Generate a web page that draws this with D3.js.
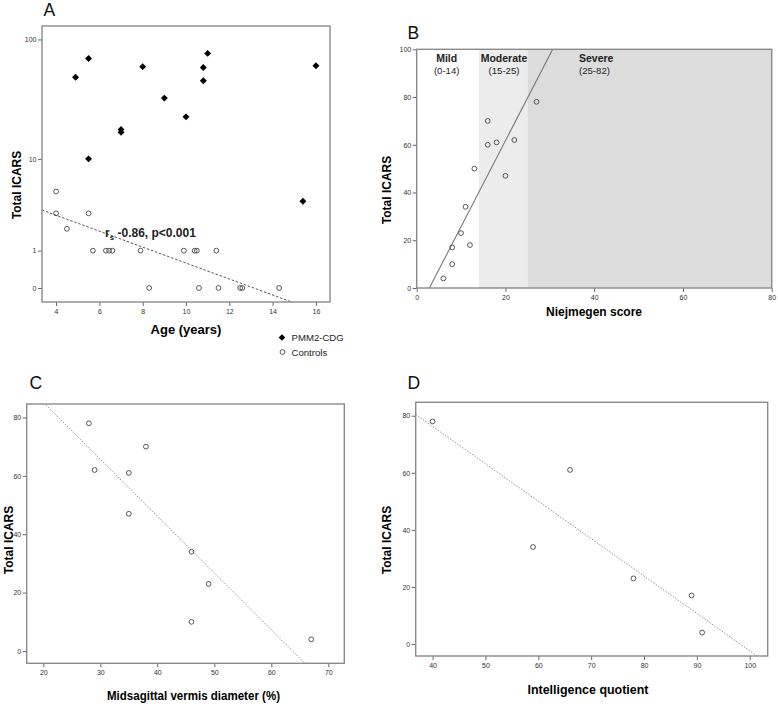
<!DOCTYPE html>
<html><head><meta charset="utf-8">
<script src="https://cdn.jsdelivr.net/npm/d3@7"></script>
<style>
body{margin:0;background:#fff;}
svg{display:block;font-family:"Liberation Sans",Arial,sans-serif;}
.tick text{fill:#333;}
</style></head>
<body>
<script>
// ---------- DATA ----------
// Panel A: age vs total ICARS (log scale of value+1)
const ageCDG   = [4.9, 5.5, 5.5, 7, 7, 8, 9, 10, 10.8, 10.8, 11, 15.4, 16];
const icarsCDG = [49, 70, 10, 18, 17, 60, 33, 23, 59, 46, 77, 4, 61];
const ageCtrl   = [4, 4, 4.5, 5.5, 5.7, 6.3, 6.45, 6.6, 7.9, 8.3, 9.9, 10.4, 10.5, 10.6, 11.4, 11.5, 12.5, 12.6, 14.3];
const icarsCtrl = [5, 3, 2, 3, 1, 1, 1, 1, 1, 0, 1, 1, 1, 0, 1, 0, 0, 0, 0];
const fitA = [0.844, -0.0643];           // log10(ICARS+1) = a + b*age
const ticksAx = [4, 6, 8, 10, 12, 14, 16];
const ticksAy = [0, 1, 10, 100];

// Panel B: Nijmegen score vs ICARS
const nijScore = [27, 16, 16, 18, 22, 13, 20, 11, 10, 8, 12, 8, 6];
const nijIcars = [78, 70, 60, 61, 62, 50, 47, 34, 23, 17, 18, 10, 4];
const fitB = [-10.3, 3.6];               // ICARS = a + b*score
const bands = ["Mild", "Moderate", "Severe"];
const bandRange = ["(0-14)", "(15-25)", "(25-82)"];
const bandStart = [0, 14, 25];
const bandEnd = [14, 25, 80];
const ticksBx = [0, 20, 40, 60, 80];
const ticksBy = [0, 20, 40, 60, 80, 100];

// Panel C: midsagittal vermis diameter vs ICARS
const vermis = [28, 29, 38, 35, 35, 46, 49, 46, 67];
const vermisIcars = [78, 62, 70, 61, 47, 34, 23, 10, 4];
const fitC = [124.1, -1.947];
const ticksCx = [20, 30, 40, 50, 60, 70];
const ticksCy = [0, 20, 40, 60, 80];

// Panel D: IQ vs ICARS
const iq = [40, 66, 59, 78, 89, 91];
const iqIcars = [78, 61, 34, 23, 17, 4];
const fitD = [128.7, -1.311];
const ticksDx = [40, 50, 60, 70, 80, 90, 100];
const ticksDy = [0, 20, 40, 60, 80];

// ---------- DRAW ----------
const svg = d3.select("body").append("svg").attr("width", 778).attr("height", 706);
const FRAME = "#8a8a8a";
let clipId = 0;

function panel(f, x, y, xt, yt, yFmt) {
  const g = svg.append("g");
  const id = "clip" + (clipId++);
  svg.append("clipPath").attr("id", id).append("rect")
    .attr("x", f.l).attr("y", f.t).attr("width", f.r - f.l).attr("height", f.b - f.t);
  const ax = g.append("g").attr("transform", `translate(0,${f.b})`)
    .call(d3.axisBottom(x).tickValues(xt).tickSize(4).tickPadding(3));
  const ay = g.append("g").attr("transform", `translate(${f.l},0)`)
    .call(d3.axisLeft(y).tickValues(yt).tickSize(4).tickPadding(1.5).tickFormat(yFmt || (d => d)));
  [ax, ay].forEach(a => {
    a.select(".domain").remove();
    a.selectAll("line").attr("stroke", "#666");
    a.selectAll("text").style("font-size", "7px");
  });
  return {g, clip: `url(#${id})`};
}
function frame(f) {
  svg.append("rect").attr("x", f.l).attr("y", f.t).attr("width", f.r - f.l).attr("height", f.b - f.t)
    .attr("fill", "none").attr("stroke", FRAME).attr("stroke-width", 1.4);
}
function circles(g, xs, ys, x, y) {
  g.selectAll(null).data(xs).enter().append("circle")
    .attr("cx", d => x(d)).attr("cy", (d, i) => y(ys[i])).attr("r", 2.4)
    .attr("fill", "none").attr("stroke", "#444").attr("stroke-width", 0.9);
}
function letter(t, px, py) {
  svg.append("text").attr("x", px).attr("y", py).text(t).style("font-size", "17.5px").attr("fill", "#111");
}
function yTitle(t, cx, cy, size) {
  svg.append("text").attr("transform", `translate(${cx},${cy}) rotate(-90)`).attr("text-anchor", "middle")
    .attr("dy", "0.35em").style("font-size", size + "px").style("font-weight", "bold").text(t);
}
function xTitle(t, cx, by, size, len) {
  const s = svg.append("text").attr("x", cx).attr("y", by).attr("text-anchor", "middle")
    .style("font-size", size + "px").style("font-weight", "bold").text(t);
  if (len) s.attr("textLength", len).attr("lengthAdjust", "spacingAndGlyphs");
}

// ---- Panel A ----
const fA = {l: 42, t: 26, r: 330, b: 302};
const tA = v => Math.log10(v + 1);
const xA = d3.scaleLinear().domain([3.35, 16.65]).range([fA.l, fA.r]);
const yA = d3.scaleLinear().domain([-0.113, 2.113]).range([fA.b, fA.t]);
const pA = panel(fA, xA, yA, ticksAx, ticksAy.map(tA), (d, i) => ticksAy[i]);
pA.g.append("path").attr("clip-path", pA.clip)
  .attr("d", d3.line()(xA.domain().map(a => [xA(a), yA(fitA[0] + fitA[1] * a)])))
  .attr("fill", "none").attr("stroke", "#555").attr("stroke-width", 1).attr("stroke-dasharray", "2.5,1.8");
circles(pA.g, ageCtrl, icarsCtrl, xA, v => yA(tA(v)));
pA.g.selectAll(null).data(ageCDG).enter().append("path")
  .attr("d", d3.symbol(d3.symbolSquare, 24)())
  .attr("transform", (d, i) => `translate(${xA(d)},${yA(tA(icarsCDG[i]))}) rotate(45)`)
  .attr("fill", "#000");
frame(fA);
const ann = svg.append("text").attr("x", 105).attr("y", 237).style("font-size", "12px").style("font-weight", "bold").attr("fill", "#222");
ann.append("tspan").text("r");
ann.append("tspan").text("s").attr("dy", 3).style("font-size", "8px");
ann.append("tspan").text(" -0.86, p<0.001").attr("dy", -3);
letter("A", 43.5, 16);
yTitle("Total ICARS", 17, 185, 12);
xTitle("Age (years)", 186, 334, 13);
// legend
svg.append("path").attr("d", d3.symbol(d3.symbolSquare, 22)()).attr("transform", "translate(282,337.5) rotate(45)").attr("fill", "#000");
svg.append("text").attr("x", 291.5).attr("y", 341).style("font-size", "9.6px").attr("fill", "#222").text("PMM2-CDG");
svg.append("circle").attr("cx", 282.5).attr("cy", 352).attr("r", 2.4).attr("fill", "none").attr("stroke", "#444").attr("stroke-width", 0.9);
svg.append("text").attr("x", 291.5).attr("y", 355.5).style("font-size", "9.6px").attr("fill", "#222").text("Controls");

// ---- Panel B ----
const fB = {l: 416.7, t: 49.3, r: 771.7, b: 288};
const xB = d3.scaleLinear().domain([0, 80]).range([fB.l, fB.r]);
const yB = d3.scaleLinear().domain([0, 100]).range([fB.b, fB.t]);
const bandFill = ["#ffffff", "#ececec", "#dcdcdc"];
svg.selectAll(null).data(bandStart).enter().append("rect")
  .attr("x", d => xB(d)).attr("y", fB.t).attr("width", (d, i) => xB(bandEnd[i]) - xB(d)).attr("height", fB.b - fB.t)
  .attr("fill", (d, i) => bandFill[i]);
const pB = panel(fB, xB, yB, ticksBx, ticksBy);
pB.g.append("path").attr("clip-path", pB.clip)
  .attr("d", d3.line()(xB.domain().map(a => [xB(a), yB(fitB[0] + fitB[1] * a)])))
  .attr("fill", "none").attr("stroke", "#777").attr("stroke-width", 1.1);
circles(pB.g, nijScore, nijIcars, xB, yB);
frame(fB);
const bandCx = [446.7, 504, 579];
bands.forEach((b, i) => {
  const anchor = i < 2 ? "middle" : "start";
  svg.append("text").attr("x", bandCx[i]).attr("y", 61.5).attr("text-anchor", anchor)
    .style("font-size", "10.5px").style("font-weight", "bold").attr("fill", "#222").text(b);
  svg.append("text").attr("x", bandCx[i]).attr("y", 73.5).attr("text-anchor", anchor)
    .style("font-size", "9.6px").attr("fill", "#222").text(bandRange[i]);
});
letter("B", 407.5, 39.3);
yTitle("Total ICARS", 387, 190, 12);
xTitle("Niejmegen score", 594, 316, 12);

// ---- Panel C ----
const fC = {l: 26.7, t: 404, r: 344.3, b: 663.3};
const xC = d3.scaleLinear().domain([17.09, 72.8]).range([fC.l, fC.r]);
const yC = d3.scaleLinear().domain([-4.2, 84.6]).range([fC.b, fC.t]);
const pC = panel(fC, xC, yC, ticksCx, ticksCy);
pC.g.append("path").attr("clip-path", pC.clip)
  .attr("d", d3.line()(xC.domain().map(a => [xC(a), yC(fitC[0] + fitC[1] * a)])))
  .attr("fill", "none").attr("stroke", "#888").attr("stroke-width", 0.9).attr("stroke-dasharray", "1.5,1.5");
circles(pC.g, vermis, vermisIcars, xC, yC);
frame(fC);
letter("C", 29.5, 388.5);
yTitle("Total ICARS", 8.5, 540, 12);
xTitle("Midsagittal vermis diameter (%)", 193.5, 700, 13.5, 173);

// ---- Panel D ----
const fD = {l: 415.7, t: 402.3, r: 767.7, b: 656};
const xD = d3.scaleLinear().domain([36.8, 103.4]).range([fD.l, fD.r]);
const yD = d3.scaleLinear().domain([-4.2, 84.7]).range([fD.b, fD.t]);
const pD = panel(fD, xD, yD, ticksDx, ticksDy);
pD.g.append("path").attr("clip-path", pD.clip)
  .attr("d", d3.line()(xD.domain().map(a => [xD(a), yD(fitD[0] + fitD[1] * a)])))
  .attr("fill", "none").attr("stroke", "#888").attr("stroke-width", 0.9).attr("stroke-dasharray", "1.5,1.5");
circles(pD.g, iq, iqIcars, xD, yD);
frame(fD);
letter("D", 407.5, 388.5);
yTitle("Total ICARS", 386.5, 540, 12);
xTitle("Intelligence quotient", 588, 694, 13.5, 121);
</script>
</body></html>
